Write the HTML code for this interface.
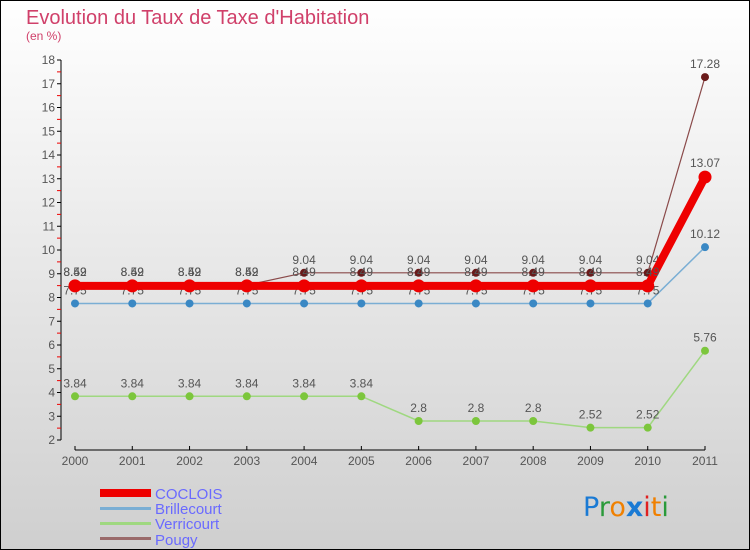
<!DOCTYPE html>
<html><head><meta charset="utf-8"><style>
body{margin:0}
svg{display:block;font-family:"Liberation Sans",sans-serif}
</style></head><body>
<svg id="chart" width="750" height="550" viewBox="0 0 750 550">
<defs><linearGradient id="bg" x1="0" y1="0" x2="0" y2="1"><stop offset="0" stop-color="#ffffff"/><stop offset="1" stop-color="#cfcfcf"/></linearGradient></defs>
<rect x="0.5" y="0.5" width="749" height="549" fill="url(#bg)" stroke="#000"/>
<text x="26" y="24" font-size="20" fill="#d0406a">Evolution du Taux de Taxe d'Habitation</text>
<text x="26" y="40" font-size="12" fill="#d0406a">(en %)</text>
<g id="axes"></g>
<g id="series"></g>
<g id="legend">
<rect x="100" y="489" width="51" height="8" fill="#e00"/>
<text x="155" y="499" font-size="15" fill="#6a6aff">COCLOIS</text>
<rect x="100" y="507" width="51" height="3" fill="#7aaed4"/>
<text x="155" y="514" font-size="15" fill="#6a6aff">Brillecourt</text>
<rect x="100" y="522" width="51" height="3" fill="#9fd880"/>
<text x="155" y="529" font-size="15" fill="#6a6aff">Verricourt</text>
<rect x="100" y="537" width="51" height="3" fill="#9a6a6a"/>
<text x="155" y="545" font-size="15" fill="#6a6aff">Pougy</text>
</g>
<g font-size="27" font-family="'DejaVu Sans',sans-serif">
<text x="583" y="516"><tspan fill="#1a7ad4">P</tspan><tspan fill="#2a9a3a">r</tspan><tspan fill="#f08000">o</tspan><tspan fill="#1a7ad4" font-weight="bold">x</tspan><tspan fill="#e02020">i</tspan><tspan fill="#f08000">t</tspan><tspan fill="#2a9a3a">i</tspan></text>
</g>
</svg>
<script>
const years=["2000","2001","2002","2003","2004","2005","2006","2007","2008","2009","2010","2011"];
const coclois=[8.49,8.49,8.49,8.49,8.49,8.49,8.49,8.49,8.49,8.49,8.49,13.07];
const brillecourt=[7.75,7.75,7.75,7.75,7.75,7.75,7.75,7.75,7.75,7.75,7.75,10.12];
const verricourt=[3.84,3.84,3.84,3.84,3.84,3.84,2.8,2.8,2.8,2.52,2.52,5.76];
const pougy=[8.52,8.52,8.52,8.52,9.04,9.04,9.04,9.04,9.04,9.04,9.04,17.28];
const yTicks=[2,3,4,5,6,7,8,9,10,11,12,13,14,15,16,17,18];
const NS="http://www.w3.org/2000/svg";
const X=i=>75+i*(630/11);
const Y=v=>440-(v-2)*23.75;
function mk(t,a,p){const e=document.createElementNS(NS,t);for(const k in a)e.setAttribute(k,a[k]);p.appendChild(e);return e;}
const ax=document.getElementById('axes');
const ya=mk('line',{x1:61,y1:Y(18),x2:61,y2:Y(2),stroke:'#000'},ax);


yTicks.forEach(v=>{
 mk('line',{x1:57,y1:Y(v),x2:61,y2:Y(v),stroke:'#000'},ax);
 if(v<18)mk('line',{x1:57,y1:Y(v+0.5),x2:61,y2:Y(v+0.5),stroke:'#e00'},ax);
 const t=mk('text',{x:55,y:Y(v)+4,'font-size':12,fill:'#555','text-anchor':'end'},ax);t.textContent=v;
 
 
});
const xa=mk('line',{x1:X(0),y1:450,x2:X(11),y2:450,stroke:'#000'},ax);


years.forEach((y,i)=>{
 mk('line',{x1:X(i),y1:446,x2:X(i),y2:450,stroke:'#000'},ax);
 const t=mk('text',{x:X(i),y:465,'font-size':12,fill:'#555','text-anchor':'middle'},ax);t.textContent=y;
 
 
});
const sg=document.getElementById('series');
function series(vals,name,color,w,r,dot,labOff){
 const g=mk('g',{},sg);
 
 
 const pl=mk('polyline',{points:vals.map((v,i)=>X(i)+','+Y(v)).join(' '),fill:'none',stroke:color,'stroke-width':w,'stroke-linejoin':'round'},g);
 
 
 vals.forEach((v,i)=>{
  const c=mk('circle',{cx:X(i),cy:Y(v),r:r,fill:dot},g);
  
  
  const t=mk('text',{x:X(i),y:Y(v)+labOff,'font-size':12,fill:'#555','text-anchor':'middle'},g);
  t.textContent=String(v).replace(/\.?0+$/,'');
  
  
 });
}
series(verricourt,'verricourt','#9fd880',1.5,4,'#7cc63c',-9);
series(brillecourt,'brillecourt','#7aaed4',1.5,4,'#3a88c4',-9);
series(pougy,'pougy','#8a4a4a',1.2,4,'#6a1a1a',-9);
series(coclois,'coclois','#ee0000',8,6.5,'#ee0000',-10);
</script>
</body></html>
